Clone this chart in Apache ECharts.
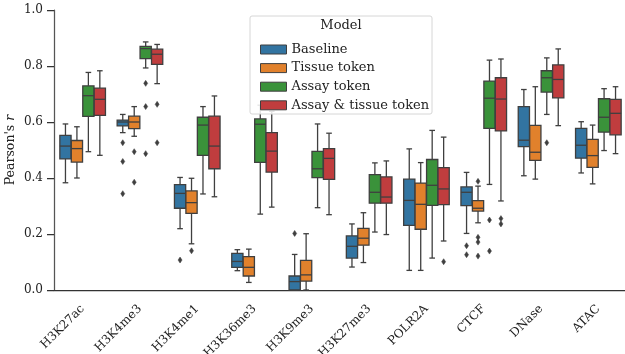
<!DOCTYPE html>
<html>
<head>
<meta charset="utf-8">
<script src="https://cdn.jsdelivr.net/npm/echarts@6/dist/echarts.min.js"></script>
<style>html,body{margin:0;padding:0;background:#fff}#c{width:625px;height:354px}</style>
</head>
<body>
<div id="c"></div>
<script>
const categories = ['H3K27ac','H3K4me3','H3K4me1','H3K36me3','H3K9me3','H3K27me3','POLR2A','CTCF','DNase','ATAC'];
const models = ['Baseline','Tissue token','Assay token','Assay & tissue token'];
const yTicks = [0.0, 0.2, 0.4, 0.6, 0.8, 1.0];

// [low whisker, Q1, median, Q3, high whisker] per category
const baseline = [
  [0.383,0.468,0.514,0.552,0.593],
  [0.562,0.586,0.600,0.607,0.627],
  [0.219,0.292,0.345,0.376,0.402],
  [0.069,0.081,0.102,0.131,0.144],
  [-0.06,-0.01,0.030,0.050,0.127],
  [0.082,0.114,0.156,0.193,0.236],
  [0.070,0.231,0.320,0.396,0.504],
  [0.202,0.301,0.349,0.368,0.420],
  [0.408,0.512,0.535,0.655,0.716],
  [0.418,0.471,0.517,0.577,0.601]
];
const tissueToken = [
  [0.400,0.457,0.505,0.534,0.583],
  [0.549,0.576,0.600,0.621,0.655],
  [0.165,0.274,0.312,0.354,0.399],
  [0.027,0.050,0.081,0.119,0.146],
  [-0.02,0.032,0.054,0.106,0.201],
  [0.098,0.160,0.185,0.220,0.276],
  [0.070,0.217,0.306,0.382,0.455],
  [0.240,0.282,0.292,0.319,0.371],
  [0.396,0.463,0.492,0.588,0.726],
  [0.379,0.438,0.480,0.538,0.589]
];
const assayToken = [
  [0.494,0.620,0.694,0.729,0.777],
  [0.793,0.826,0.862,0.870,0.886],
  [0.343,0.481,0.589,0.617,0.655],
  [0.271,0.456,0.592,0.611,0.660],
  [0.294,0.401,0.433,0.495,0.593],
  [0.207,0.310,0.349,0.412,0.454],
  [0.114,0.302,0.374,0.466,0.570],
  [0.377,0.577,0.685,0.746,0.821],
  [0.627,0.707,0.758,0.783,0.829],
  [0.498,0.564,0.617,0.683,0.719]
];
const assayTissueToken = [
  [0.481,0.624,0.681,0.721,0.783],
  [0.737,0.806,0.842,0.860,0.877],
  [0.333,0.433,0.514,0.621,0.693],
  [0.296,0.421,0.496,0.562,0.638],
  [0.269,0.395,0.470,0.505,0.560],
  [0.198,0.310,0.332,0.404,0.461],
  [0.175,0.305,0.361,0.437,0.546],
  [0.318,0.568,0.682,0.758,0.825],
  [0.587,0.686,0.752,0.804,0.861],
  [0.487,0.554,0.631,0.681,0.726]
];
// outliers: [category index, value]
const baselineOut = [[1,0.526],[1,0.459],[1,0.344],[2,0.107],[4,0.202],[7,0.158],[7,0.126]];
const tissueOut = [[1,0.494],[1,0.385],[2,0.140],[7,0.388],[7,0.188],[7,0.171],[7,0.121]];
const assayOut = [[1,0.738],[1,0.655],[1,0.487],[7,0.250],[7,0.139],[8,0.526]];
const assayTissueOut = [[1,0.663],[1,0.526],[6,0.101],[7,0.255],[7,0.236]];

const colors = ['#3274a1','#e1812c','#3a923a','#c03d3e'];
const EDGE = '#3f3f3f';
const FONT = 'DejaVu Serif';
const FS = 12;
const FS_LEG = 13;

const boxSets = [baseline, tissueToken, assayToken, assayTissueToken];
const outSets = [baselineOut, tissueOut, assayOut, assayTissueOut];

function boxRender(k) {
  return function (params, api) {
    const cat = api.value(0);
    const band = api.size([1, 0])[0];
    const off = (k - 1.5) * band * 0.2;
    const w = band * 0.2 * 0.98;
    const cs = params.coordSys;
    const yb = cs.y + cs.height;
    const cy = v => Math.min(api.coord([cat, v])[1], yb);
    const cx = api.coord([cat, 0])[0] + off;
    const lo = cy(api.value(1)), q1 = cy(api.value(2)), md = cy(api.value(3)), q3 = cy(api.value(4)), hi = cy(api.value(5));
    const lw = 1.3;
    const ls = {stroke: EDGE, lineWidth: lw};
    const cap = w / 4;
    return {
      type: 'group',
      children: [
        {type: 'line', shape: {x1: cx, y1: hi, x2: cx, y2: q3}, style: ls},
        {type: 'line', shape: {x1: cx, y1: q1, x2: cx, y2: lo}, style: ls},
        {type: 'line', shape: {x1: cx - cap, y1: hi, x2: cx + cap, y2: hi}, style: ls},
        {type: 'line', shape: {x1: cx - cap, y1: lo, x2: cx + cap, y2: lo}, style: ls},
        {type: 'rect', shape: {x: cx - w / 2, y: q3, width: w, height: q1 - q3}, style: {fill: colors[k], stroke: EDGE, lineWidth: lw}},
        {type: 'line', shape: {x1: cx - w / 2, y1: md, x2: cx + w / 2, y2: md}, style: ls}
      ]
    };
  };
}
function outRender(k) {
  return function (params, api) {
    const cat = api.value(0);
    const band = api.size([1, 0])[0];
    const off = (k - 1.5) * band * 0.2;
    const p = api.coord([cat, api.value(1)]);
    const x = p[0] + off, y = p[1];
    const hw = 2, hh = 3;
    return {
      type: 'polygon',
      shape: {points: [[x, y - hh], [x + hw, y], [x, y + hh], [x - hw, y]]},
      style: {fill: EDGE, stroke: EDGE, lineWidth: 0.5}
    };
  };
}

const series = [];
boxSets.forEach((set, k) => {
  series.push({
    name: models[k], type: 'custom', renderItem: boxRender(k),
    itemStyle: {color: colors[k]},
    encode: {x: 0, y: [1, 2, 3, 4, 5]},
    data: set.map((r, i) => [i].concat(r)),
    z: 2
  });
});
outSets.forEach((set, k) => {
  series.push({
    name: models[k], type: 'custom', renderItem: outRender(k),
    itemStyle: {color: colors[k]},
    encode: {x: 0, y: 1},
    data: set,
    z: 3
  });
});

const chart = echarts.init(document.getElementById('c'), null, {renderer: 'canvas'});
chart.setOption({
  animation: false,
  backgroundColor: '#fff',
  textStyle: {fontFamily: FONT},
  grid: {left: 54, top: 10, width: 573, height: 280, containLabel: false, outerBoundsMode: 'none'},
  xAxis: {
    type: 'category', data: categories, boundaryGap: true,
    axisLine: {lineStyle: {color: '#333', width: 1.25}},
    axisTick: {alignWithLabel: true, length: 7, lineStyle: {color: '#333', width: 1.25}},
    axisLabel: {rotate: 45, align: 'right', verticalAlign: 'middle', color: '#222', fontSize: FS, fontFamily: FONT, margin: 17, interval: 0},
    splitLine: {show: false}
  },
  yAxis: {
    type: 'value', min: 0, max: 1, interval: 0.2,
    name: "Pearson's {i|r}", nameLocation: 'middle', nameGap: 37, nameMoveOverlap: false,
    nameTextStyle: {color: '#222', fontSize: 12.5, fontFamily: FONT, rich: {i: {fontStyle: 'italic', fontSize: 12.5, fontFamily: FONT, color: '#222'}}},
    axisLine: {show: true, lineStyle: {color: '#555', width: 1.25}},
    axisTick: {show: true, length: 7, lineStyle: {color: '#333', width: 1.25}},
    axisLabel: {color: '#222', fontSize: FS, fontFamily: FONT, margin: 11, formatter: v => v.toFixed(1)},
    splitLine: {show: false}
  },
  legend: {
    data: models, orient: 'vertical', left: 255, top: 37, z: 120,
    itemWidth: 26, itemHeight: 9, itemGap: 3.6, itemTextGap: 10,
    icon: 'rect',
    itemStyle: {borderColor: EDGE, borderWidth: 1},
    textStyle: {fontSize: FS_LEG, fontFamily: FONT, color: '#222', lineHeight: 15}
  },
  graphic: [
    {type: 'rect', z: 100, shape: {x: 250, y: 16, width: 182, height: 98, r: 2},
     style: {fill: 'rgba(255,255,255,0.85)', stroke: '#d6d6d6', lineWidth: 1}},
    {type: 'text', z: 101, style: {x: 341, y: 26, text: 'Model', textAlign: 'center', textVerticalAlign: 'middle', fontSize: FS_LEG, fontFamily: FONT, fill: '#222'}}
  ],
  series: series
});
</script>
</body>
</html>
